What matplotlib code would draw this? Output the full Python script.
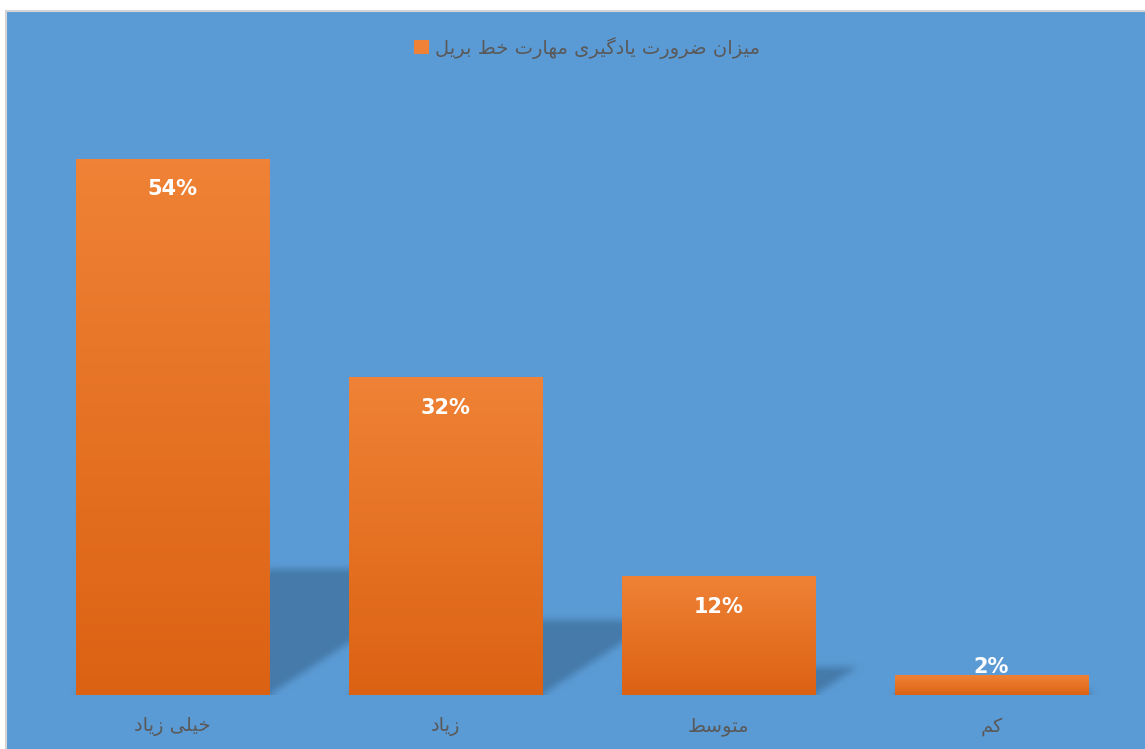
import numpy as np
import matplotlib.pyplot as plt
from matplotlib.patches import Rectangle, Patch
from matplotlib.colors import LinearSegmentedColormap, to_rgb

# data
categories = ['خیلی زیاد', 'زیاد', 'متوسط', 'کم']
values = [54, 32, 12, 2]
series_name = 'میزان ضرورت یادگیری مهارت خط بریل'

# colours
bg = '#5B9BD5'
bar_top = '#EF8236'
bar_bottom = '#DC6213'
shadow_col = '#457AAA'
text_col = '#595959'

# matplotlib does no arabic shaping, so pick presentation forms by hand
# value = code point of isolated form (then final, initial, medial)
FORMS = {
    'ا': 0xFE8D, 'ب': 0xFE8F, 'ت': 0xFE95, 'خ': 0xFEA5, 'د': 0xFEA9,
    'ر': 0xFEAD, 'ز': 0xFEAF, 'س': 0xFEB1, 'ض': 0xFEBD, 'ط': 0xFEC1,
    'ل': 0xFEDD, 'م': 0xFEE1, 'ن': 0xFEE5, 'ه': 0xFEE9, 'و': 0xFEED,
    'ی': 0xFBFC, 'ک': 0xFB8E, 'گ': 0xFB92,
}
RIGHT_ONLY = set('ادذرزژو')


def shape(s):
    out = []
    for i, c in enumerate(s):
        if c not in FORMS:
            out.append(c)
            continue
        prev = s[i - 1] if i > 0 else ''
        nxt = s[i + 1] if i + 1 < len(s) else ''
        jp = prev in FORMS and prev not in RIGHT_ONLY
        jn = c not in RIGHT_ONLY and nxt in FORMS
        k = 3 if (jp and jn) else 1 if jp else 2 if jn else 0
        out.append(chr(FORMS[c] + k))
    return ''.join(reversed(out))


def box_blur(a, r, n=3):
    for _ in range(n):
        for axis in (0, 1):
            p = np.pad(a, [(r + 1, r) if i == axis else (0, 0) for i in range(2)],
                       mode='edge')
            c = np.cumsum(p, axis=axis)
            if axis == 0:
                a = (c[2 * r + 1:] - c[:-2 * r - 1]) / (2 * r + 1)
            else:
                a = (c[:, 2 * r + 1:] - c[:, :-2 * r - 1]) / (2 * r + 1)
    return a


fig = plt.figure(figsize=(11.45, 7.49), dpi=100)
fig.patch.set_facecolor('white')
fig.patches.append(Rectangle((6 / 1145, -0.01), 1.0, 1 - 11 / 749 + 0.01,
                             transform=fig.transFigure, facecolor=bg,
                             edgecolor='#D4D4D4', linewidth=1.5, zorder=-1))

ax = fig.add_axes([36 / 1145, 54 / 749, 1092 / 1145, 596 / 749])
ax.set_zorder(2)
ax.set_facecolor('none')
x = np.arange(len(values))
width = 0.71
xlim = (-0.5, len(values) - 0.5)
ylim = (0, 60)

# soft sheared shadow behind each bar, rendered as a blurred mask
nx, ny = 1092, 596
gx = np.linspace(xlim[0], xlim[1], nx)
gy = np.linspace(ylim[0], ylim[1], ny)
GX, GY = np.meshgrid(gx, gy)
mask = np.zeros((ny, nx))
for xi, v in zip(x, values):
    h = 0.235 * v
    dx = v * 0.01315
    L, R = xi - width / 2, xi + width / 2
    t = GY / h
    inside = (GY >= 0) & (GY <= h) & (GX >= L + dx * t) & (GX <= R + dx * t)
    mask[inside] = 1.0
mask = box_blur(mask, 3)
rgba = np.zeros((ny, nx, 4))
rgba[..., :3] = to_rgb(shadow_col)
rgba[..., 3] = np.clip(mask, 0, 1)
ax.imshow(rgba, origin='lower', aspect='auto',
          extent=[xlim[0], xlim[1], ylim[0], ylim[1]], zorder=1,
          interpolation='bilinear')

# gradient bars
grad = np.linspace(0, 1, 100).reshape(-1, 1)
cmap = LinearSegmentedColormap.from_list('o', [bar_bottom, bar_top])
bars = ax.bar(x, values, width=width, color=bar_bottom, zorder=2)
for b in bars:
    x0, y0 = b.get_x(), b.get_y()
    im = ax.imshow(grad, cmap=cmap, aspect='auto', origin='lower',
                   extent=[x0, x0 + b.get_width(), y0, y0 + b.get_height()],
                   zorder=3)
    im.set_clip_path(b)
ax.set_xlim(*xlim)
ax.set_ylim(*ylim)

for xi, v in zip(x, values):
    ax.text(xi, max(v - 3.1, 2.8), f'{v}%', ha='center', va='center',
            color='white', fontsize=15, fontweight='bold', zorder=5)

ax.set_xticks(x)
ax.set_xticklabels([shape(c) for c in categories], fontsize=14, color=text_col)
ax.tick_params(axis='x', length=0, pad=16)
ax.set_yticks([])
for sp in ax.spines.values():
    sp.set_visible(False)

fig.legend(handles=[Patch(facecolor=bar_top, edgecolor='none')],
           labels=[shape(series_name)], loc='center',
           bbox_to_anchor=(587 / 1145, 1 - 48 / 749), frameon=False,
           fontsize=14, labelcolor=text_col, handlelength=0.75,
           handleheight=0.75, handletextpad=0.3)

fig.savefig('out.png', dpi=100, facecolor=fig.get_facecolor())
